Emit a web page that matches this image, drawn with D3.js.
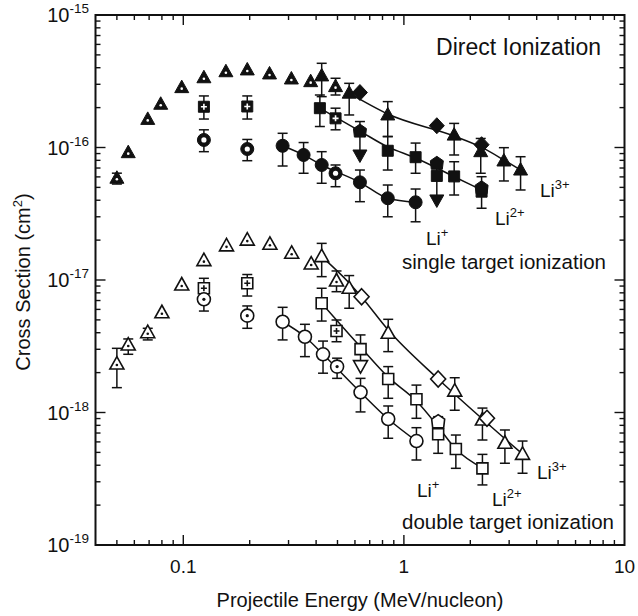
<!DOCTYPE html>
<html>
<head>
<meta charset="utf-8">
<script src="https://cdn.jsdelivr.net/npm/d3@7"></script>
<style>
  body { margin: 0; background: #fff; }
  svg text { font-family: "Liberation Sans", Arial, Helvetica, sans-serif; fill: #111; }
</style>
</head>
<body>
<svg id="chart" width="638" height="616"></svg>
<script>
// ---------- axis definitions ----------
const xDomain = [0.04, 10];
const yDomain = [1e-19, 1e-15];
const xMajorTicks = [0.1, 1, 10];
const xTickLabels = ["0.1", "1", "10"];
const yMajorTicks = [1e-15, 1e-16, 1e-17, 1e-18, 1e-19];
const yTickExponents = ["-15", "-16", "-17", "-18", "-19"];

// ---------- single target ionization (filled symbols) ----------
// low-energy data set (symbols with centre mark)
const sglTriOld_E  = [0.05, 0.0563, 0.069, 0.079, 0.0984, 0.124, 0.156, 0.195, 0.246, 0.309, 0.378, 0.49];
const sglTriOld_S  = [5.86e-17, 9.14e-17, 1.63e-16, 2.12e-16, 2.83e-16, 3.36e-16, 3.73e-16, 3.85e-16, 3.59e-16, 3.29e-16, 3.14e-16, 2.88e-16];
const sglTriOld_lo = [5.3e-17, null, null, null, null, null, null, null, null, null, null, 2.49e-16];
const sglTriOld_hi = [6.4e-17, null, null, null, null, null, null, null, null, null, null, 3.33e-16];

const sglSqOld_E  = [0.124, 0.195, 0.49];
const sglSqOld_S  = [2.03e-16, 2.04e-16, 1.66e-16];
const sglSqOld_lo = [1.64e-16, 1.64e-16, 1.36e-16];
const sglSqOld_hi = [2.45e-16, 2.45e-16, 1.98e-16];

const sglCircOld_E  = [0.124, 0.195, 0.49];
const sglCircOld_S  = [1.14e-16, 9.74e-17, 6.39e-17];
const sglCircOld_lo = [9.30e-17, 7.95e-17, 5.06e-17];
const sglCircOld_hi = [1.36e-16, 1.15e-16, 7.38e-17];

// Li3+
const sglLi3_E  = [0.424, 0.565, 0.845, 1.69, 2.23, 2.84, 3.38];
const sglLi3_S  = [3.47e-16, 2.57e-16, 1.76e-16, 1.24e-16, 9.30e-17, 7.91e-17, 6.76e-17];
const sglLi3_lo = [2.42e-16, 1.76e-16, 1.21e-16, 8.78e-17, 6.39e-17, 5.59e-17, 4.78e-17];
const sglLi3_hi = [4.32e-16, 3.05e-16, 2.22e-16, 1.52e-16, 1.17e-16, 9.97e-17, 8.52e-17];
const sglLi3b_E = [0.632, 1.41, 2.25];
const sglLi3b_S = [2.60e-16, 1.46e-16, 1.05e-16];

// Li2+
const sglLi2_E  = [0.416, 0.845, 1.13, 1.41, 1.69, 2.25];
const sglLi2_S  = [1.98e-16, 9.45e-17, 8.45e-17, 6.10e-17, 6.05e-17, 4.64e-17];
const sglLi2_lo = [1.44e-16, 6.76e-17, 6.39e-17, null, 4.38e-17, 3.48e-17];
const sglLi2_hi = [2.49e-16, 1.21e-16, 1.08e-16, null, 7.81e-17, 6.02e-17];
const sglLi2b_E  = [0.632, 1.41, 2.25];
const sglLi2b_S  = [1.33e-16, 7.60e-17, 4.97e-17];
const sglLi2b_lo = [null, null, null];
const sglLi2b_hi = [1.57e-16, null, null];

// Li+
const sglLi1_E  = [0.282, 0.351, 0.424, 0.632, 0.845, 1.13];
const sglLi1_S  = [1.03e-16, 8.78e-17, 7.38e-17, 5.46e-17, 4.14e-17, 3.86e-17];
const sglLi1_lo = [7.25e-17, 6.39e-17, 5.37e-17, 3.90e-17, 3.00e-17, 2.75e-17];
const sglLi1_hi = [1.28e-16, 1.09e-16, 9.30e-17, 6.76e-17, 5.21e-17, 4.86e-17];
const sglLi1b_E  = [0.632, 1.41];
const sglLi1b_S  = [8.78e-17, 4.02e-17];
const sglLi1b_hi = [1.33e-16, 7.60e-17];

// guide curves
const fitSglLi3_E = [0.565, 0.845, 1.69, 2.23, 2.84, 3.38];
const fitSglLi3_S = [2.57e-16, 1.79e-16, 1.22e-16, 1.01e-16, 8.05e-17, 6.76e-17];
const fitSglLi2_E = [0.416, 0.632, 0.845, 1.13, 1.69, 2.25];
const fitSglLi2_S = [1.98e-16, 1.33e-16, 1.01e-16, 8.33e-17, 6.02e-17, 4.78e-17];
const fitSglLi1_E = [0.282, 0.351, 0.424, 0.632, 0.845, 1.13];
const fitSglLi1_S = [1.03e-16, 8.78e-17, 7.38e-17, 5.46e-17, 4.14e-17, 3.86e-17];

// ---------- double target ionization (open symbols) ----------
const dblTriOld_E  = [0.05, 0.0563, 0.069, 0.08, 0.0984, 0.124, 0.157, 0.195, 0.247, 0.31, 0.38, 0.495];
const dblTriOld_S  = [2.32e-18, 3.23e-18, 4.00e-18, 5.66e-18, 9.17e-18, 1.40e-17, 1.81e-17, 2.00e-17, 1.86e-17, 1.59e-17, 1.32e-17, 9.83e-18];
const dblTriOld_lo = [1.54e-18, 2.75e-18, 3.53e-18, null, null, null, null, null, null, null, null, 8.16e-18];
const dblTriOld_hi = [3.05e-18, 3.59e-18, 4.32e-18, null, null, null, null, null, null, null, null, 1.17e-17];

const dblSqOld_E  = [0.124, 0.195, 0.495];
const dblSqOld_S  = [8.66e-18, 9.44e-18, 4.12e-18];
const dblSqOld_lo = [7.35e-18, 7.57e-18, 3.42e-18];
const dblSqOld_hi = [1.03e-17, 1.10e-17, 4.99e-18];

const dblCircOld_E  = [0.124, 0.195, 0.498];
const dblCircOld_S  = [7.15e-18, 5.38e-18, 2.22e-18];
const dblCircOld_lo = [5.83e-18, 4.32e-18, 1.81e-18];
const dblCircOld_hi = [8.41e-18, 6.37e-18, 2.57e-18];

// Li3+
const dblLi3_E  = [0.424, 0.565, 0.849, 1.70, 2.27, 2.87, 3.45];
const dblLi3_S  = [1.50e-17, 8.66e-18, 3.96e-18, 1.45e-18, 8.78e-19, 5.86e-19, 4.83e-19];
const dblLi3_lo = [1.06e-17, 6.12e-18, 2.88e-18, 1.04e-18, 6.20e-19, 4.14e-19, 3.48e-19];
const dblLi3_hi = [1.89e-17, 1.08e-17, 5.05e-18, 1.83e-18, 1.08e-18, 7.38e-19, 6.09e-19];
const dblLi3b_E = [0.643, 1.43, 2.38];
const dblLi3b_S = [7.48e-18, 1.79e-18, 9.04e-19];

// Li2+
const dblLi2_E  = [0.424, 0.636, 0.849, 1.14, 1.43, 1.72, 2.27];
const dblLi2_S  = [6.67e-18, 3.01e-18, 1.79e-18, 1.26e-18, 6.85e-19, 5.30e-19, 3.79e-19];
const dblLi2_lo = [4.90e-18, null, 1.28e-18, 9.04e-19, 4.92e-19, 3.79e-19, 2.84e-19];
const dblLi2_hi = [8.66e-18, 3.85e-18, 2.22e-18, 1.61e-18, 9.30e-19, 6.76e-19, 4.83e-19];
const dblLi2b_E = [1.43];
const dblLi2b_S = [8.52e-19];

// Li+
const dblLi1_E  = [0.282, 0.356, 0.43, 0.636, 0.849, 1.14];
const dblLi1_S  = [4.84e-18, 3.73e-18, 2.75e-18, 1.42e-18, 8.93e-19, 6.09e-19];
const dblLi1_lo = [3.53e-18, 2.64e-18, 1.98e-18, 1.01e-18, 6.39e-19, 4.38e-19];
const dblLi1_hi = [6.22e-18, 4.63e-18, 3.46e-18, 1.81e-18, 1.12e-18, 7.68e-19];
const dblLi1b_E  = [0.636];
const dblLi1b_S  = [2.26e-18];
const dblLi1b_hi = [3.01e-18];

// guide curves
const fitDblLi3_E = [0.424, 0.565, 0.643, 0.849, 1.43, 2.27, 3.45];
const fitDblLi3_S = [1.50e-17, 9.49e-18, 7.44e-18, 4.19e-18, 1.79e-18, 8.93e-19, 4.86e-19];
const fitDblLi2_E = [0.424, 0.636, 0.849, 1.14, 1.43, 1.72, 2.27];
const fitDblLi2_S = [6.67e-18, 3.12e-18, 1.85e-18, 1.22e-18, 7.81e-19, 5.30e-19, 3.81e-19];
const fitDblLi1_E = [0.282, 0.356, 0.43, 0.636, 0.849, 1.14];
const fitDblLi1_S = [4.84e-18, 3.73e-18, 2.75e-18, 1.42e-18, 8.93e-19, 6.09e-19];

// ---------- drawing ----------
const svg = d3.select("#chart");
const plot = { left: 95.5, right: 624.5, top: 15, bottom: 545 };

const x = d3.scaleLog().domain(xDomain).range([plot.left, plot.right]);
const y = d3.scaleLog().domain(yDomain).range([plot.bottom, plot.top]);

const ink = "#111";

// frame
svg.append("rect")
  .attr("x", plot.left).attr("y", plot.top)
  .attr("width", plot.right - plot.left).attr("height", plot.bottom - plot.top)
  .attr("fill", "none").attr("stroke", ink).attr("stroke-width", 2);

// inward ticks on all four sides
const isMajor = v => Math.abs(Math.log10(v) - Math.round(Math.log10(v))) < 1e-6;
const tickG = svg.append("g").attr("stroke", ink).attr("stroke-width", 1.4);
x.ticks().forEach(v => {
  if (v <= xDomain[0] * 1.0001 || v >= xDomain[1] * 0.9999) return;
  const len = isMajor(v) ? 10 : 5;
  const px = x(v);
  tickG.append("line").attr("x1", px).attr("x2", px).attr("y1", plot.bottom).attr("y2", plot.bottom - len);
  tickG.append("line").attr("x1", px).attr("x2", px).attr("y1", plot.top).attr("y2", plot.top + len);
});
y.ticks().forEach(v => {
  if (v <= yDomain[0] * 1.0001 || v >= yDomain[1] * 0.9999) return;
  const len = isMajor(v) ? 10 : 5;
  const py = y(v);
  tickG.append("line").attr("y1", py).attr("y2", py).attr("x1", plot.left).attr("x2", plot.left + len);
  tickG.append("line").attr("y1", py).attr("y2", py).attr("x1", plot.right).attr("x2", plot.right - len);
});

// tick labels
xMajorTicks.forEach((v, i) => {
  svg.append("text").attr("x", x(v)).attr("y", 573)
    .attr("text-anchor", "middle").attr("font-size", 19).text(xTickLabels[i]);
});
yMajorTicks.forEach((v, i) => {
  const t = svg.append("text").attr("x", 89).attr("y", y(v) + 7)
    .attr("text-anchor", "end").attr("font-size", 20);
  t.append("tspan").text("10");
  t.append("tspan").attr("font-size", 13.5).attr("dy", -9).text(yTickExponents[i]);
});

// axis titles
svg.append("text").attr("x", 360).attr("y", 607).attr("text-anchor", "middle")
  .attr("font-size", 20).text("Projectile Energy (MeV/nucleon)");
const yt = svg.append("text").attr("transform", "translate(30,282) rotate(-90)")
  .attr("text-anchor", "middle").attr("font-size", 20);
yt.append("tspan").text("Cross Section (cm");
yt.append("tspan").attr("font-size", 13).attr("dy", -8).text("2");
yt.append("tspan").attr("dy", 8).text(")");

// helpers
const zip = (E, S, lo, hi) => E.map((e, i) => ({
  e, s: S[i], lo: lo ? lo[i] : null, hi: hi ? hi[i] : null
}));

const lineGen = d3.line().x(d => x(d.e)).y(d => y(d.s)).curve(d3.curveMonotoneX);
const fitG = svg.append("g");
function drawFit(E, S) {
  fitG.append("path").datum(zip(E, S))
    .attr("d", lineGen).attr("fill", "none").attr("stroke", ink).attr("stroke-width", 1.5);
}

const errG = svg.append("g").attr("stroke", ink).attr("stroke-width", 1.5);
function drawErr(pts) {
  pts.forEach(p => {
    if (p.hi == null && p.lo == null) return;
    const px = x(p.e);
    const top = p.hi != null ? y(p.hi) : y(p.s);
    const bot = p.lo != null ? y(p.lo) : y(p.s);
    errG.append("line").attr("x1", px).attr("x2", px).attr("y1", top).attr("y2", bot);
    if (p.hi != null) errG.append("line").attr("x1", px - 5).attr("x2", px + 5).attr("y1", top).attr("y2", top);
    if (p.lo != null) errG.append("line").attr("x1", px - 5).attr("x2", px + 5).attr("y1", bot).attr("y2", bot);
  });
}

const shapes = {
  tri:  "M0,-7.5L7,5L-7,5Z",
  triD: "M0,7.5L7,-5L-7,-5Z",
  diam: "M0,-8L7.5,0L0,8L-7.5,0Z",
  pent: "M0,-7L6.5,-2.5L5.5,6L-5.5,6L-6.5,-2.5Z",
  sq:   "M-5.5,-5.5H5.5V5.5H-5.5Z",
  circ: "M6.5,0A6.5,6.5 0 1 1 -6.5,0A6.5,6.5 0 1 1 6.5,0Z"
};

const markG = svg.append("g");
// style: "filled", "open", "filledMark", "openMark"
function drawMarks(pts, shape, style) {
  pts.forEach(p => {
    const g = markG.append("g").attr("transform", `translate(${x(p.e)},${y(p.s)})`);
    const filled = style.startsWith("filled");
    g.append("path").attr("d", shapes[shape])
      .attr("fill", filled ? ink : "#fff")
      .attr("stroke", ink).attr("stroke-width", filled ? 1 : 1.6)
      .attr("stroke-linejoin", "miter");
    if (style.endsWith("Mark")) {
      const c = filled ? "#fff" : ink;
      if (shape === "sq") {
        g.append("path").attr("d", "M-3,0H3M0,-3V3").attr("stroke", c).attr("stroke-width", 1.6);
      } else if (shape === "circ") {
        g.append("circle").attr("r", filled ? 2.6 : 1.6).attr("fill", c);
      } else {
        g.append("circle").attr("cy", 1).attr("r", 1.3).attr("fill", c);
      }
    }
  });
}

// guide curves
drawFit(fitSglLi3_E, fitSglLi3_S);
drawFit(fitSglLi2_E, fitSglLi2_S);
drawFit(fitSglLi1_E, fitSglLi1_S);
drawFit(fitDblLi3_E, fitDblLi3_S);
drawFit(fitDblLi2_E, fitDblLi2_S);
drawFit(fitDblLi1_E, fitDblLi1_S);

// series
const series = [
  [zip(sglTriOld_E, sglTriOld_S, sglTriOld_lo, sglTriOld_hi), "tri", "filledMark"],
  [zip(sglSqOld_E, sglSqOld_S, sglSqOld_lo, sglSqOld_hi), "sq", "filledMark"],
  [zip(sglCircOld_E, sglCircOld_S, sglCircOld_lo, sglCircOld_hi), "circ", "filledMark"],
  [zip(sglLi1b_E, sglLi1b_S, null, sglLi1b_hi), "triD", "filled"],
  [zip(sglLi3_E, sglLi3_S, sglLi3_lo, sglLi3_hi), "tri", "filled"],
  [zip(sglLi3b_E, sglLi3b_S), "diam", "filled"],
  [zip(sglLi2_E, sglLi2_S, sglLi2_lo, sglLi2_hi), "sq", "filled"],
  [zip(sglLi2b_E, sglLi2b_S, sglLi2b_lo, sglLi2b_hi), "pent", "filled"],
  [zip(sglLi1_E, sglLi1_S, sglLi1_lo, sglLi1_hi), "circ", "filled"],
  [zip(dblTriOld_E, dblTriOld_S, dblTriOld_lo, dblTriOld_hi), "tri", "openMark"],
  [zip(dblSqOld_E, dblSqOld_S, dblSqOld_lo, dblSqOld_hi), "sq", "openMark"],
  [zip(dblCircOld_E, dblCircOld_S, dblCircOld_lo, dblCircOld_hi), "circ", "openMark"],
  [zip(dblLi1b_E, dblLi1b_S, null, dblLi1b_hi), "triD", "open"],
  [zip(dblLi3_E, dblLi3_S, dblLi3_lo, dblLi3_hi), "tri", "open"],
  [zip(dblLi3b_E, dblLi3b_S), "diam", "open"],
  [zip(dblLi2_E, dblLi2_S, dblLi2_lo, dblLi2_hi), "sq", "open"],
  [zip(dblLi2b_E, dblLi2b_S), "pent", "open"],
  [zip(dblLi1_E, dblLi1_S, dblLi1_lo, dblLi1_hi), "circ", "open"]
];
series.forEach(([pts]) => drawErr(pts));
series.forEach(([pts, shape, style]) => drawMarks(pts, shape, style));

// annotations
function ionLabel(px, py, charge) {
  const t = svg.append("text").attr("x", px).attr("y", py).attr("font-size", 19);
  t.append("tspan").text("Li");
  t.append("tspan").attr("font-size", 13).attr("dy", -8).text(charge);
}
svg.append("text").attr("x", 601).attr("y", 55).attr("text-anchor", "end")
  .attr("font-size", 23).text("Direct Ionization");
ionLabel(540, 197, "3+");
ionLabel(495, 225, "2+");
ionLabel(426, 245, "+");
svg.append("text").attr("x", 606).attr("y", 269).attr("text-anchor", "end")
  .attr("font-size", 20.5).text("single target ionization");
ionLabel(537, 479, "3+");
ionLabel(417, 497, "+");
ionLabel(492, 506, "2+");
svg.append("text").attr("x", 614).attr("y", 529).attr("text-anchor", "end")
  .attr("font-size", 20.5).text("double target ionization");
</script>
</body>
</html>
